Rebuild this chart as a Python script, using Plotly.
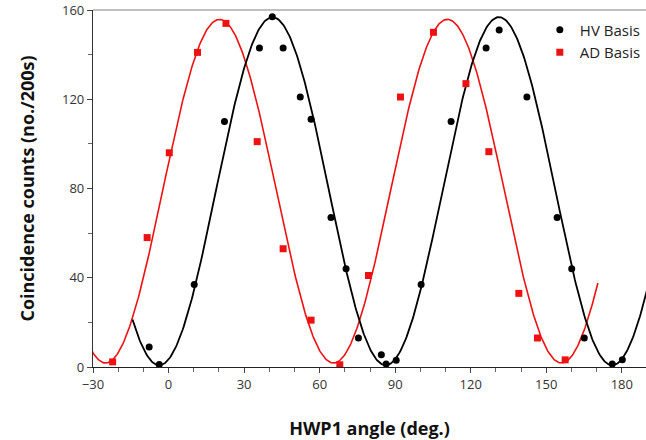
import numpy as np
import plotly.graph_objects as go

hv_angle = [-7.7, -3.7, 10.2, 22.2, 36.1, 41.2, 45.5, 52.3, 56.6, 64.5, 70.5, 75.4,
            84.5, 86.4, 90.4, 100.3, 112.2, 126.1, 131.3, 142.3, 154.3, 160.1, 165.1,
            176.2, 180.2]
hv_counts = [9, 1.1, 37, 110, 143, 157, 143, 121, 111, 67, 44, 13,
             5.5, 1.3, 3, 37, 110, 143, 151, 121, 67, 44, 13, 1.3, 3.2]

ad_angle = [-22.2, -8.5, 0.3, 11.5, 22.8, 35.2, 45.5, 56.6, 68.0, 79.4, 92.1,
            105.2, 118.1, 127.2, 139.1, 146.5, 157.5]
ad_counts = [2.3, 58, 96, 141, 154, 101, 53, 21, 1, 41, 121,
             150, 127, 96.5, 33, 13, 3.2]

# ---- fitted cos^2 model parameters ----
hv_fit = dict(amp=156.0, offset=0.8, theta_min=-3.7, period=89.95, start=-14.3, end=192.0)
ad_fit = dict(amp=154.0, offset=1.8, theta_min=-25.0, period=90.5, start=-32.0, end=170.5)

x_ticks = [-30, 0, 30, 60, 90, 120, 150, 180]
y_ticks = [0, 40, 80, 120, 160]


def fit_curve(p):
    th = np.linspace(p["start"], p["end"], 600)
    y = p["offset"] + p["amp"] * np.sin(np.pi * (th - p["theta_min"]) / p["period"]) ** 2
    return th, y


hv_tx, hv_ty = fit_curve(hv_fit)
ad_tx, ad_ty = fit_curve(ad_fit)

RED = "#ee1111"
fig = go.Figure()
fig.add_trace(go.Scatter(x=ad_tx, y=ad_ty, mode="lines", line=dict(color=RED, width=1.6),
                         showlegend=False, hoverinfo="skip"))
fig.add_trace(go.Scatter(x=hv_tx, y=hv_ty, mode="lines", line=dict(color="black", width=1.8),
                         showlegend=False, hoverinfo="skip"))
fig.add_trace(go.Scatter(x=hv_angle, y=hv_counts, mode="markers", name="HV Basis",
                         marker=dict(symbol="circle", size=7, color="black")))
fig.add_trace(go.Scatter(x=ad_angle, y=ad_counts, mode="markers", name="AD Basis",
                         marker=dict(symbol="square", size=7, color=RED)))

font_family = "Open Sans"
fig.update_layout(
    width=646, height=440,
    margin=dict(l=93, r=0, t=10, b=73),
    paper_bgcolor="white", plot_bgcolor="white",
    font=dict(family=font_family, size=13, color="#333"),
    showlegend=True,
    legend=dict(x=0.808, y=0.99, xanchor="left", yanchor="top",
                bgcolor="rgba(0,0,0,0)", font=dict(size=15, color="#222"),
                tracegroupgap=0),
    xaxis=dict(range=[-30, 189.6], tickvals=x_ticks, ticks="outside", ticklen=5,
               tickcolor="#444", showgrid=False, zeroline=False, showline=True,
               linecolor="#222", linewidth=1.2,
               minor=dict(dtick=10, ticks="outside", ticklen=4, tickcolor="#666"),
               tickfont=dict(size=13, color="#333"),
               title=dict(text="<b>HWP1 angle (deg.)</b>", font=dict(size=18, color="#111"),
                          standoff=30)),
    yaxis=dict(range=[0, 160], tickvals=y_ticks, ticks="outside", ticklen=5,
               tickcolor="#444", showgrid=False, zeroline=False, showline=True,
               linecolor="#333", linewidth=1.2,
               minor=dict(dtick=20, ticks="outside", ticklen=4, tickcolor="#666"),
               tickfont=dict(size=13, color="#333"),
               title=dict(text="<b>Coincidence counts (no./200s)</b>",
                          font=dict(size=18, color="#111"), standoff=22)),
    shapes=[dict(type="line", xref="paper", yref="paper", x0=0, x1=1, y0=1, y1=1,
                 line=dict(color="#aaa", width=1.5))],
)

fig.write_html("out.html")
